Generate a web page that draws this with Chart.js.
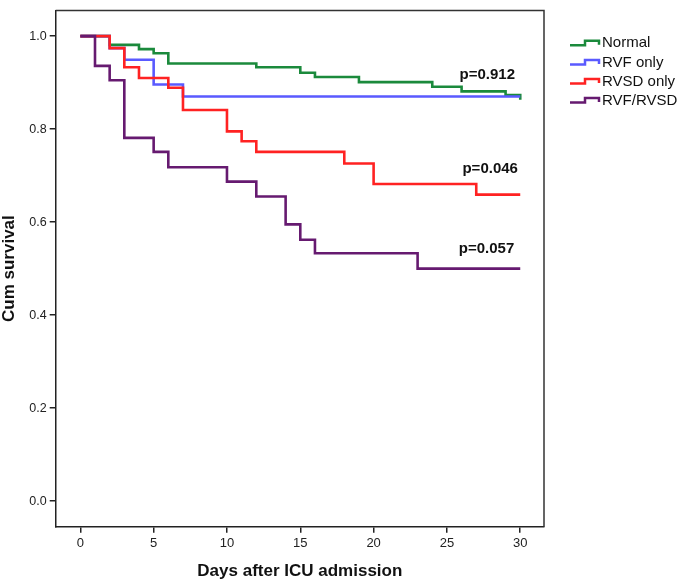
<!DOCTYPE html>
<html><head><meta charset="utf-8">
<script src="https://cdn.jsdelivr.net/npm/chart.js@4.4.0/dist/chart.umd.min.js"></script>
<style>html,body{margin:0;padding:0;background:#fff;}#wrap{width:685px;height:587px;}</style>
</head><body><div id="wrap"><canvas id="c" width="685" height="587"></canvas></div>
<script>
// ---- data ----
const seriesNames = ['Normal', 'RVF only', 'RVSD only', 'RVF/RVSD'];
const normalDays = [0, 2, 4, 5, 6, 12, 15, 16, 19, 24, 26, 29, 30];
const normalSurv = [1, 0.981, 0.972, 0.963, 0.941, 0.933, 0.921, 0.912, 0.901, 0.891, 0.881, 0.873, 0.863];
const rvfDays = [0, 2, 3, 5, 7, 30];
const rvfSurv = [1, 0.974, 0.949, 0.896, 0.870, 0.870];
const rvsdDays = [0, 2, 3, 4, 6, 7, 10, 11, 12, 18, 20, 27, 30];
const rvsdSurv = [1, 0.974, 0.933, 0.910, 0.889, 0.841, 0.795, 0.774, 0.751, 0.726, 0.682, 0.659, 0.659];
const bothDays = [0, 1, 2, 3, 5, 6, 10, 12, 14, 15, 16, 23, 30];
const bothSurv = [1, 0.936, 0.905, 0.781, 0.751, 0.718, 0.687, 0.655, 0.595, 0.562, 0.533, 0.500, 0.500];
const xTickValues = [0, 5, 10, 15, 20, 25, 30];
const yTickValues = [0, 0.2, 0.4, 0.6, 0.8, 1.0];
const pValueLabels = ['p=0.912', 'p=0.046', 'p=0.057'];

const seriesColors = ['#1b8a3c', '#5a5aff', '#ff2222', '#661a70'];
const FONT = "'Liberation Sans', Arial, sans-serif";

function pts(days, surv) { return days.map((d, i) => ({ x: d, y: surv[i] })); }
const allSeries = [pts(normalDays, normalSurv), pts(rvfDays, rvfSurv), pts(rvsdDays, rvsdSurv), pts(bothDays, bothSurv)];

// text anchors (data units) for p-values
const pAnchors = [{ x: 27.75, y: 0.917 }, { x: 27.95, y: 0.714 }, { x: 27.7, y: 0.542 }];

const framePlugin = {
  id: 'frame',
  afterDatasetsDraw(chart) {
    const { ctx, chartArea: a, scales } = chart;
    ctx.save();
    ctx.strokeStyle = '#333';
    ctx.lineWidth = 1.5;
    ctx.beginPath();
    ctx.moveTo(a.left, a.top); ctx.lineTo(a.right, a.top); ctx.lineTo(a.right, a.bottom);
    ctx.stroke();
    // p-values
    ctx.fillStyle = '#111';
    ctx.font = 'bold 15px ' + FONT;
    ctx.textAlign = 'center';
    ctx.textBaseline = 'middle';
    pValueLabels.forEach((t, i) => {
      ctx.fillText(t, scales.x.getPixelForValue(pAnchors[i].x), scales.y.getPixelForValue(pAnchors[i].y));
    });
    // legend
    const lx = 570, ly0 = 43.3, dy = 19.1;
    ctx.textAlign = 'left';
    ctx.font = '15px ' + FONT;
    chart.data.datasets.forEach((ds, i) => {
      const c = ly0 + i * dy;
      ctx.strokeStyle = ds.borderColor;
      ctx.lineWidth = 2.5;
      ctx.lineJoin = 'miter';
      ctx.beginPath();
      ctx.moveTo(lx, c + 2); ctx.lineTo(lx + 15, c + 2); ctx.lineTo(lx + 15, c - 2.5);
      ctx.lineTo(lx + 29, c - 2.5); ctx.lineTo(lx + 29, c + 1.5);
      ctx.stroke();
      ctx.fillStyle = '#111';
      ctx.fillText(ds.label, lx + 32, c);
    });
    ctx.restore();
  }
};

new Chart(document.getElementById('c'), {
  type: 'line',
  data: {
    datasets: allSeries.map((d, i) => ({
      label: seriesNames[i],
      data: d,
      borderColor: seriesColors[i],
      borderWidth: 2.6,
      stepped: true,
      pointRadius: 0,
      fill: false,
      order: 4 - i
    }))
  },
  options: {
    responsive: false,
    devicePixelRatio: 1,
    animation: false,
    layout: { padding: { top: 3, right: 141, left: 0, bottom: 0 } },
    plugins: { legend: { display: false }, tooltip: { enabled: false } },
    scales: {
      x: {
        type: 'linear',
        min: -1.68, max: 31.62,
        afterBuildTicks: s => { s.ticks = xTickValues.map(v => ({ value: v })); },
        afterFit: s => { s.height = 60.3; },
        grid: { display: true, drawOnChartArea: false, drawTicks: true, tickLength: 6, color: '#222', lineWidth: 1.5 },
        border: { display: true, color: '#222', width: 1.5 },
        ticks: { padding: 3, color: '#222', font: { family: FONT, size: 13 }, maxRotation: 0, callback: v => String(v) },
        title: { display: true, text: 'Days after ICU admission', color: '#111', font: { family: FONT, size: 17, weight: 'bold', lineHeight: 1.2 }, padding: { top: 0, bottom: 5 } }
      },
      y: {
        type: 'linear',
        min: -0.055, max: 1.055,
        afterBuildTicks: s => { s.ticks = yTickValues.map(v => ({ value: v })); },
        afterFit: s => { s.width = 55.7; },
        grid: { display: true, drawOnChartArea: false, drawTicks: true, tickLength: 6, color: '#222', lineWidth: 1.5 },
        border: { display: true, color: '#222', width: 1.5 },
        ticks: { padding: 3, color: '#222', font: { family: FONT, size: 12.5 }, callback: v => Number(v).toFixed(1) },
        title: { display: true, text: 'Cum survival', color: '#111', font: { family: FONT, size: 17, weight: 'bold', lineHeight: 1 }, padding: { top: 1, bottom: 0 } }
      }
    }
  },
  plugins: [framePlugin]
});
</script>
</body></html>
